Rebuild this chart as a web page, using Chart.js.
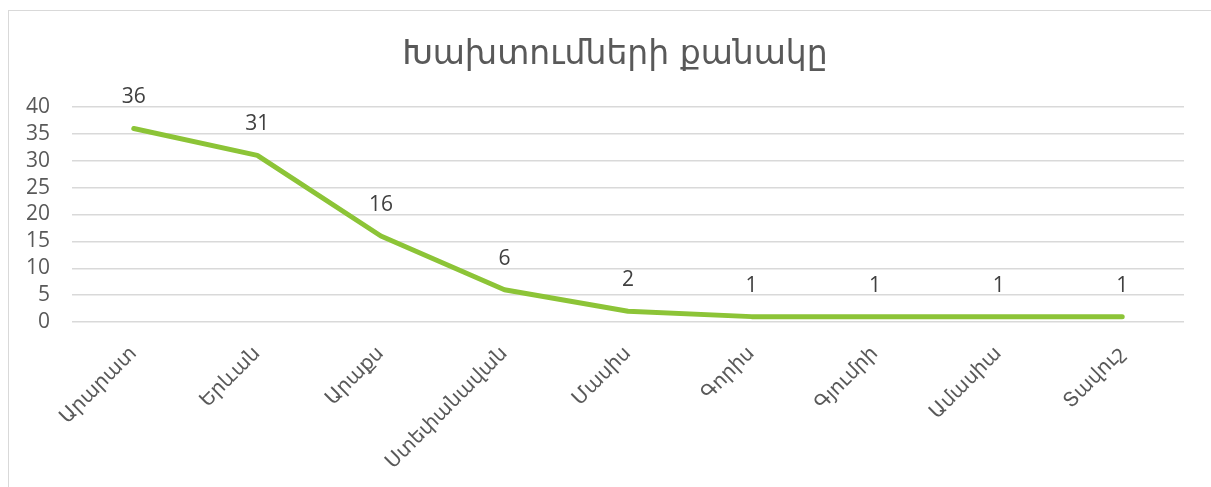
<!DOCTYPE html>
<html>
<head>
<meta charset="utf-8">
<script src="https://cdn.jsdelivr.net/npm/chart.js@4/dist/chart.umd.min.js"></script>
<style>
  html, body { margin: 0; padding: 0; background: #fff; overflow: hidden; }
  #frame {
    position: absolute; left: 8px; top: 10px; width: 1240px; height: 520px;
    border: 1.5px solid #d9d9d9; box-sizing: border-box;
  }
  #wrap { position: absolute; left: 0; top: 0; width: 1211px; height: 487px; }
</style>
</head>
<body>
<div id="frame"></div>
<div id="wrap"><canvas id="chart" width="1211" height="487"></canvas></div>
<script>
const TITLE = "Խախտումների քանակը";
const REGIONS = ["Արարատ", "Երևան", "Արաքս", "Ստեփանավան", "Մասիս", "Գորիս", "Գյումրի", "Ամասիա", "Տավուշ"];
const COUNTS = [36, 31, 16, 6, 2, 1, 1, 1, 1];
const Y_MIN = 0;
const Y_MAX = 40;
const Y_STEP = 5;

const FONT = "'DejaVu Sans', sans-serif";
const NUM_FONT = "'Open Sans', 'DejaVu Sans', sans-serif";

// value labels above each point
const pointLabels = {
  id: "pointLabels",
  afterDatasetsDraw(chart) {
    const ctx = chart.ctx;
    const meta = chart.getDatasetMeta(0);
    ctx.save();
    ctx.font = `21px ${NUM_FONT}`;
    ctx.fillStyle = "#404040";
    ctx.textAlign = "center";
    ctx.textBaseline = "middle";
    meta.data.forEach((pt, i) => {
      ctx.fillText(String(COUNTS[i]), pt.x, pt.y - 31);
    });
    ctx.restore();
  },
};

// title centred on the whole chart frame, not the padded box
const frameTitle = {
  id: "frameTitle",
  afterDraw(chart) {
    const ctx = chart.ctx;
    ctx.save();
    ctx.font = `33px ${FONT}`;
    ctx.fillStyle = "#595959";
    ctx.textAlign = "center";
    ctx.textBaseline = "middle";
    ctx.fillText(TITLE, 615, 55);
    ctx.restore();
  },
};

new Chart(document.getElementById("chart"), {
  type: "line",
  data: {
    labels: REGIONS,
    datasets: [
      {
        data: COUNTS,
        borderColor: "#8cc437",
        borderWidth: 5,
        borderCapStyle: "round",
        borderJoinStyle: "round",
        pointRadius: 0,
        tension: 0,
        fill: false,
      },
    ],
  },
  options: {
    responsive: false,
    animation: false,
    layout: { padding: { left: 20, right: 27, top: 107, bottom: 0 } },
    plugins: {
      legend: { display: false },
      tooltip: { enabled: false },
      title: { display: false },
    },
    scales: {
      x: {
        offset: true,
        grid: { display: false, drawTicks: false },
        border: { display: false },
        ticks: {
          color: "#595959",
          font: { family: FONT, size: 20 },
          maxRotation: 45,
          minRotation: 45,
          autoSkip: false,
          padding: 20,
        },
        afterFit: (s) => { s.height = 165; },
      },
      y: {
        min: Y_MIN,
        max: Y_MAX,
        grid: { color: "#d9d9d9", lineWidth: 1.5, drawTicks: false },
        border: { display: false },
        ticks: {
          stepSize: Y_STEP,
          autoSkip: false,
          color: "#595959",
          font: { family: NUM_FONT, size: 21 },
          padding: 22,
        },
        afterFit: (s) => { s.width = 52; },
      },
    },
  },
  plugins: [pointLabels, frameTitle],
});
</script>
</body>
</html>
